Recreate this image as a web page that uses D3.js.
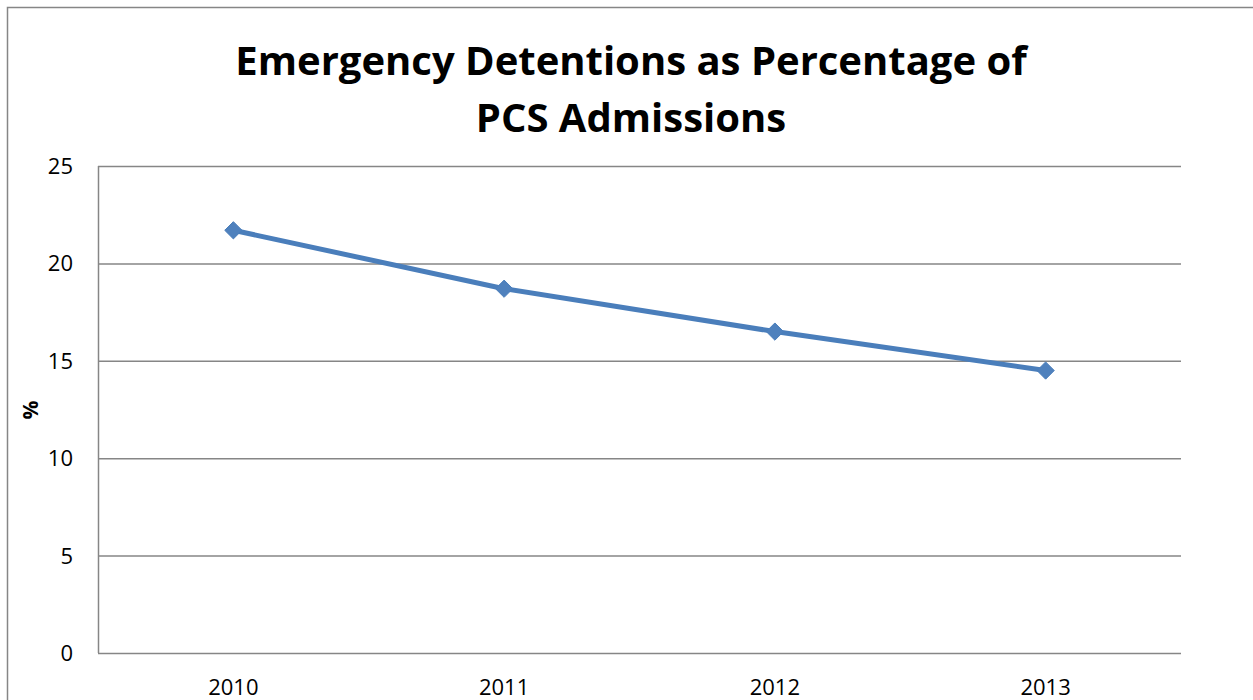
<!DOCTYPE html>
<html>
<head>
<meta charset="utf-8">
<script src="https://cdn.jsdelivr.net/npm/d3@7"></script>
<style>
  body { margin: 0; background: #fff; }
  text { font-family: "Open Sans", sans-serif; fill: #000; }
</style>
</head>
<body>
<div id="chart"></div>
<script>
var years = ["2010", "2011", "2012", "2013"];
var pct = [21.7, 18.7, 16.5, 14.5];
var yTicks = [0, 5, 10, 15, 20, 25];
var titleLines = ["Emergency Detentions as Percentage of", "PCS Admissions"];

var width = 1253, height = 700;
var m = {left: 98, top: 166, right: 1181, bottom: 653};

var svg = d3.select("#chart").append("svg")
  .attr("width", width).attr("height", height);

// outer chart border (runs off the right and bottom edge)
svg.append("rect")
  .attr("x", 7.5).attr("y", 7.5)
  .attr("width", 1260).attr("height", 720)
  .attr("fill", "none").attr("stroke", "#868686").attr("stroke-width", 1.5);

var x = d3.scaleBand().domain(years).range([m.left, m.right]);
var y = d3.scaleLinear().domain([0, 25]).range([m.bottom, m.top]);

// gridlines
svg.append("g").selectAll("line").data(yTicks).enter().append("line")
  .attr("x1", m.left).attr("x2", m.right)
  .attr("y1", function(d){ return y(d) + 0.5; })
  .attr("y2", function(d){ return y(d) + 0.5; })
  .attr("stroke", "#868686").attr("stroke-width", 1.5);

// y axis line
svg.append("line")
  .attr("x1", m.left + 0.5).attr("x2", m.left + 0.5)
  .attr("y1", m.top).attr("y2", m.bottom)
  .attr("stroke", "#868686").attr("stroke-width", 1.5);

// y tick labels
svg.append("g").selectAll("text").data(yTicks).enter().append("text")
  .attr("x", 73).attr("y", function(d){ return y(d) + 8; })
  .attr("text-anchor", "end").style("font-size", "22px")
  .text(function(d){ return d; });

// x tick labels
svg.append("g").selectAll("text").data(years).enter().append("text")
  .attr("x", function(d){ return x(d) + x.bandwidth() / 2; })
  .attr("y", 695)
  .attr("text-anchor", "middle").style("font-size", "22px")
  .text(function(d){ return d; });

// y axis title
svg.append("text")
  .attr("transform", "translate(38,410) rotate(-90)")
  .attr("text-anchor", "middle")
  .style("font-size", "21px").style("font-weight", "bold")
  .text("%");

// title
svg.append("g").selectAll("text").data(titleLines).enter().append("text")
  .attr("x", 631).attr("y", function(d, i){ return 75 + i * 57; })
  .attr("text-anchor", "middle")
  .style("font-size", "40px").style("font-weight", "bold")
  .text(function(d){ return d; });

// series line
var line = d3.line()
  .x(function(d, i){ return x(years[i]) + x.bandwidth() / 2; })
  .y(function(d){ return y(d); });

svg.append("path").datum(pct)
  .attr("d", line)
  .attr("fill", "none").attr("stroke", "#4a7ebb").attr("stroke-width", 5)
  .attr("stroke-linejoin", "round");

// diamond markers
svg.append("g").selectAll("path").data(pct).enter().append("path")
  .attr("d", d3.symbol().type(d3.symbolDiamond2).size(190))
  .attr("transform", function(d, i){
    return "translate(" + (x(years[i]) + x.bandwidth() / 2) + "," + y(d) + ")";
  })
  .attr("fill", "#4f81bd").attr("stroke", "#4a7ebb").attr("stroke-width", 1);
</script>
</body>
</html>
